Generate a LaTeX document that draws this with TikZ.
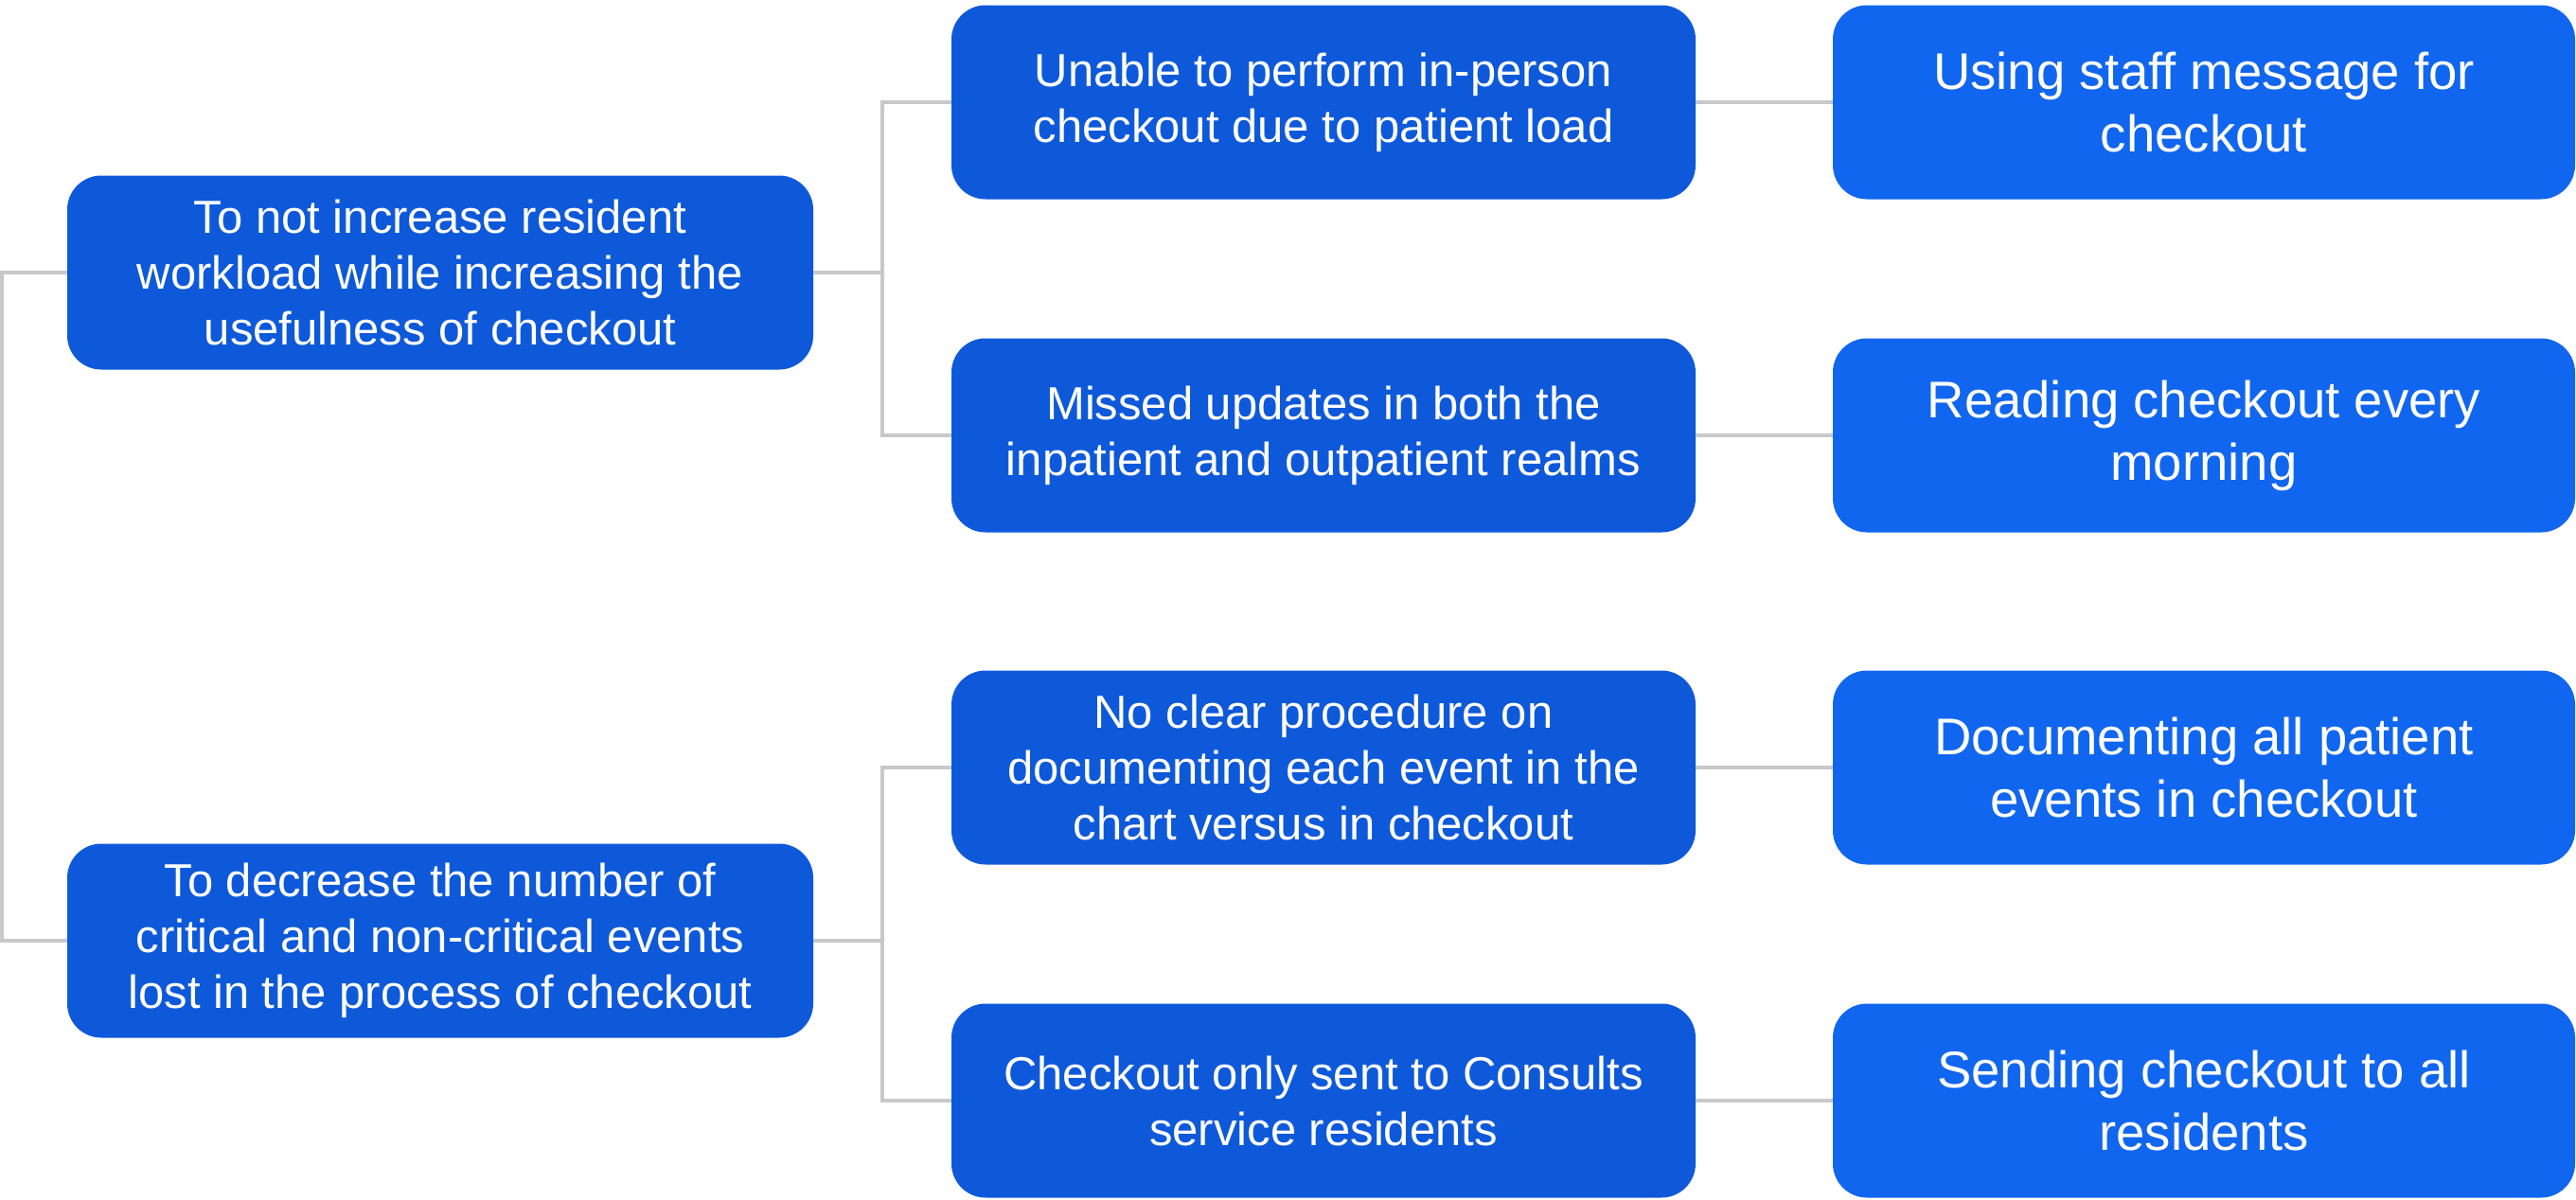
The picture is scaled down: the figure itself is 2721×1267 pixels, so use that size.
\documentclass[tikz,border=0pt]{standalone}
\usepackage{fontspec}
\setmainfont{Liberation Sans}
\begin{document}
\begin{tikzpicture}[x=1pt,y=-1pt,
  box/.style={rounded corners=36pt, text=white, align=center, inner sep=0pt,
    minimum height=205pt, font=\fontsize{49}{59}\selectfont},
  lbox/.style={box, fill=darkblue, minimum width=788pt},
  mbox/.style={box, fill=darkblue, minimum width=786pt},
  rbox/.style={box, fill=brightblue, minimum width=784pt, font=\fontsize{54.5}{66}\selectfont},
  conn/.style={draw=linegray, line width=3.5pt}]
\definecolor{darkblue}{HTML}{0E59DA}
\definecolor{brightblue}{HTML}{1166EF}
\definecolor{linegray}{HTML}{C8C8C8}
\useasboundingbox[fill=white] (0,0) rectangle (2721,1267);
\coordinate (lft) at (2,0);
\coordinate (bx) at (932,0);

\node[lbox] (L1) at (465,288) {To not increase resident\\workload while increasing the\\usefulness of checkout};
\node[lbox] (L2) at (465,994) {To decrease the number of\\critical and non-critical events\\lost in the process of checkout};

\node[mbox] (M1) at (1398,108) {Unable to perform in-person\\checkout due to patient load};
\node[mbox] (M2) at (1398,460) {Missed updates in both the\\inpatient and outpatient realms};
\node[mbox] (M3) at (1398,811) {No clear procedure on\\documenting each event in the\\chart versus in checkout};
\node[mbox] (M4) at (1398,1163) {Checkout only sent to Consults\\service residents};

\node[rbox] (R1) at (2328,108) {Using staff message for\\checkout};
\node[rbox] (R2) at (2328,460) {Reading checkout every\\morning};
\node[rbox] (R3) at (2328,811) {Documenting all patient\\events in checkout};
\node[rbox] (R4) at (2328,1163) {Sending checkout to all\\residents};

\begin{scope}[on background layer/.try]
\end{scope}
\draw[conn] (L1.west) -- (L1.west -| lft) |- (L2.west);
\draw[conn] (L1.east) -- (L1.east -| bx) |- (M1.west);
\draw[conn] (L1.east -| bx) |- (M2.west);
\draw[conn] (L2.east) -- (L2.east -| bx) |- (M3.west);
\draw[conn] (L2.east -| bx) |- (M4.west);
\draw[conn] (M1.east) -- (R1.west);
\draw[conn] (M2.east) -- (R2.west);
\draw[conn] (M3.east) -- (R3.west);
\draw[conn] (M4.east) -- (R4.west);
\end{tikzpicture}
\end{document}
